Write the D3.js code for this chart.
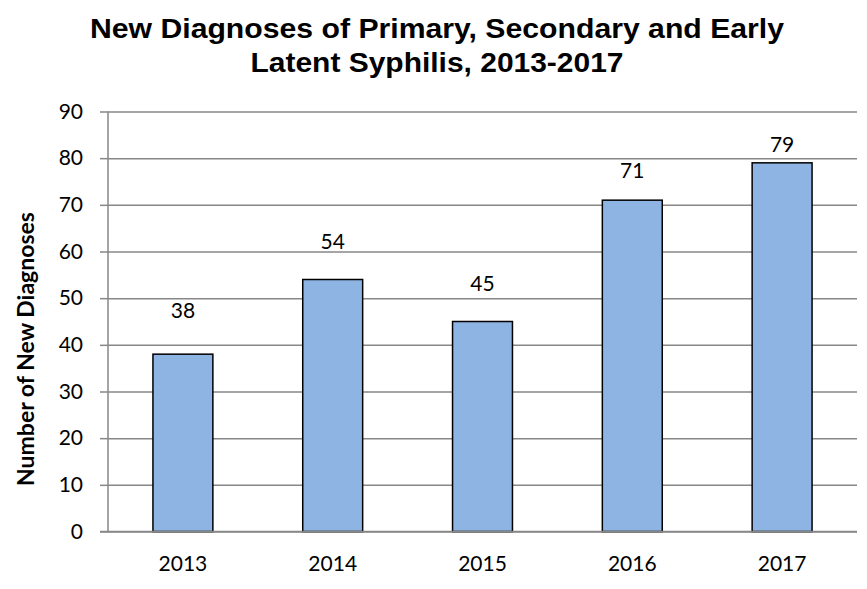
<!DOCTYPE html>
<html>
<head>
<meta charset="utf-8">
<script src="https://cdn.jsdelivr.net/npm/d3@7"></script>
<style>
  html, body { margin: 0; padding: 0; background: #fff; }
  svg { display: block; }
</style>
</head>
<body>
<svg id="chart" width="867" height="589"></svg>
<script>
// ---- data ----
const years = ["2013", "2014", "2015", "2016", "2017"];
const diagnoses = [38, 54, 45, 71, 79];
const yTicks = [0, 10, 20, 30, 40, 50, 60, 70, 80, 90];
const titleLines = ["New Diagnoses of Primary, Secondary and Early", "Latent Syphilis, 2013-2017"];
const yAxisTitle = "Number of New Diagnoses";

// ---- layout (px offsets of value labels above bar tops, as placed in the original) ----
const labelGap = [36, 31, 31, 22, 11];
const titleWidths = [694, 373];

const svg = d3.select("#chart");
const W = 867, H = 589;
const m = { left: 108, right: 10, top: 111.5, bottom: 57.5 };
const x = d3.scaleBand().domain(years).range([m.left, W - m.right]).paddingInner(0.6).paddingOuter(0.3);
const y = d3.scaleLinear().domain([0, 90]).range([H - m.bottom, m.top]);

const tickFont = "Lato, 'Open Sans', sans-serif";
const grey = "#878787";

// title
svg.append("g").selectAll("text").data(titleLines).join("text")
  .attr("x", 437).attr("y", (d, i) => 37.5 + i * 34.5)
  .attr("text-anchor", "middle")
  .attr("font-family", "'Liberation Sans', Arial, sans-serif")
  .attr("font-weight", "bold").attr("font-size", 27.5)
  .attr("textLength", (d, i) => titleWidths[i])
  .attr("lengthAdjust", "spacingAndGlyphs")
  .attr("fill", "#000")
  .text(d => d);

// gridlines
svg.append("g")
  .attr("transform", `translate(${m.left},0)`)
  .call(d3.axisLeft(y).tickValues(yTicks).tickSize(-(W - m.right - m.left)).tickFormat(""))
  .call(g => g.select(".domain").remove())
  .call(g => g.selectAll("line").attr("stroke", grey).attr("stroke-width", 1.5));

// y axis
svg.append("g")
  .attr("transform", `translate(${m.left},0)`)
  .call(d3.axisLeft(y).tickValues(yTicks).tickSize(8).tickPadding(17))
  .call(g => g.select(".domain").attr("stroke", grey).attr("stroke-width", 1.5).attr("d", `M0,${y(90)}V${y(0)}`))
  .call(g => g.selectAll("line").attr("stroke", grey).attr("stroke-width", 1.5))
  .call(g => g.selectAll("text").attr("font-family", tickFont).attr("font-size", 21).attr("fill", "#000"));

// bars
svg.append("g").selectAll("rect").data(diagnoses).join("rect")
  .attr("x", (d, i) => x(years[i]))
  .attr("y", d => y(d))
  .attr("width", x.bandwidth())
  .attr("height", d => y(0) - y(d))
  .attr("fill", "#8eb4e3")
  .attr("stroke", "#000")
  .attr("stroke-width", 1.5);

// x axis
svg.append("g")
  .attr("transform", `translate(0,${y(0)})`)
  .call(d3.axisBottom(x).tickSize(0).tickPadding(25))
  .call(g => g.select(".domain").attr("stroke", grey).attr("stroke-width", 1.5).attr("d", `M${m.left - 8},0H${W - m.right}`))
  .call(g => g.selectAll("text").attr("font-family", tickFont).attr("font-size", 21).attr("fill", "#000"));

// value labels
svg.append("g").selectAll("text").data(diagnoses).join("text")
  .attr("x", (d, i) => x(years[i]) + x.bandwidth() / 2)
  .attr("y", (d, i) => y(d) - labelGap[i])
  .attr("text-anchor", "middle")
  .attr("font-family", tickFont).attr("font-size", 21).attr("fill", "#000")
  .text(d => d);

// y axis title
svg.append("text")
  .attr("transform", `translate(34,349) rotate(-90)`)
  .attr("text-anchor", "middle")
  .attr("font-family", tickFont).attr("font-weight", "bold").attr("font-size", 23)
  .attr("fill", "#000")
  .text(yAxisTitle);
</script>
</body>
</html>
